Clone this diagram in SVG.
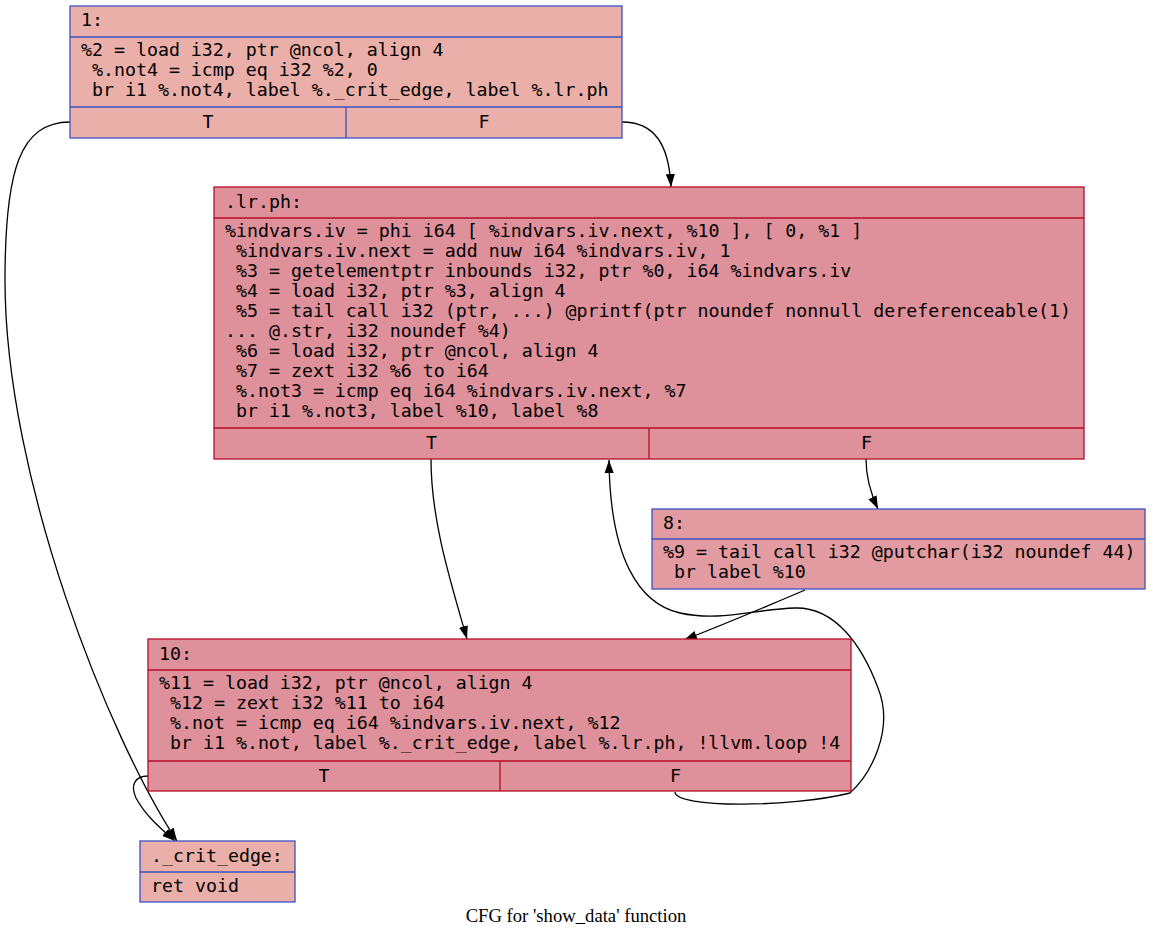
<svg xmlns="http://www.w3.org/2000/svg" width="1153" height="939" viewBox="0 0 1153 939">
<style>
.t{font-family:"DejaVu Sans Mono",monospace;font-size:18.25px;fill:#000}
.c{text-anchor:middle}
.cold{stroke:#3d50c3;stroke-width:1.3}
.hot{stroke:#b70d28;stroke-width:1.3}
.e{fill:none;stroke:#000;stroke-width:1.3}
.title{font-family:"Liberation Serif","Times New Roman",serif;font-size:18.67px;text-anchor:middle;fill:#000}
</style>
<defs>
<marker id="ah" viewBox="0 0 10 7" refX="10" refY="3.5" markerUnits="userSpaceOnUse" markerWidth="13" markerHeight="9.5" orient="auto">
<path d="M0,0 L10,3.5 L0,7 z" fill="#000"/>
</marker>
</defs>
<rect width="1153" height="939" fill="#fff"/>
<g id="edges">
<path class="e" marker-end="url(#ah)" d="M70,122 C20,122 5,170 5,280 C5,480 110,740 177,841"/>
<path class="e" marker-end="url(#ah)" d="M622,122 C655,122 669,145 671,187"/>
<path class="e" marker-end="url(#ah)" d="M431,459 C431,520 450,580 467,639"/>
<path class="e" marker-end="url(#ah)" d="M866,459 C866,478 870,492 878,509"/>
<path class="e" marker-end="url(#ah)" d="M805,590 C770,605 730,622 684,640"/>
<path class="e" marker-end="url(#ah)" d="M148,776 C135,776 130,785 136,798 C145,815 160,828 175,841"/>
<path class="e" marker-end="url(#ah)" d="M675,792 C675,808 790,808 850,793 C870,775 895,730 878,688 C862,645 835,607 795,608 C755,609 720,622 680,613 C640,604 610,560 609,460"/>
</g>
<g id="node1">
<rect class="cold" x="70" y="6" width="552" height="132" fill="#ebafa9"/>
<line class="cold" x1="70" y1="37" x2="622" y2="37"/>
<line class="cold" x1="70" y1="107" x2="622" y2="107"/>
<line class="cold" x1="346" y1="107" x2="346" y2="138"/>
<text class="t" x="81" y="26">1:</text>
<text class="t" x="81" y="56" xml:space="preserve">%2 = load i32, ptr @ncol, align 4</text>
<text class="t" x="81" y="76" xml:space="preserve"> %.not4 = icmp eq i32 %2, 0</text>
<text class="t" x="81" y="96" xml:space="preserve"> br i1 %.not4, label %._crit_edge, label %.lr.ph</text>
<text class="t c" x="208" y="128">T</text>
<text class="t c" x="484" y="128">F</text>
</g>
<g id="node_lrph">
<rect class="hot" x="214" y="187" width="870" height="272" fill="#df919b"/>
<line class="hot" x1="214" y1="218" x2="1084" y2="218"/>
<line class="hot" x1="214" y1="428" x2="1084" y2="428"/>
<line class="hot" x1="649" y1="428" x2="649" y2="459"/>
<text class="t" x="225" y="208">.lr.ph:</text>
<text class="t" x="225" y="237" xml:space="preserve">%indvars.iv = phi i64 [ %indvars.iv.next, %10 ], [ 0, %1 ]</text>
<text class="t" x="225" y="257" xml:space="preserve"> %indvars.iv.next = add nuw i64 %indvars.iv, 1</text>
<text class="t" x="225" y="277" xml:space="preserve"> %3 = getelementptr inbounds i32, ptr %0, i64 %indvars.iv</text>
<text class="t" x="225" y="297" xml:space="preserve"> %4 = load i32, ptr %3, align 4</text>
<text class="t" x="225" y="317" xml:space="preserve"> %5 = tail call i32 (ptr, ...) @printf(ptr noundef nonnull dereferenceable(1)</text>
<text class="t" x="225" y="337" xml:space="preserve">... @.str, i32 noundef %4)</text>
<text class="t" x="225" y="357" xml:space="preserve"> %6 = load i32, ptr @ncol, align 4</text>
<text class="t" x="225" y="377" xml:space="preserve"> %7 = zext i32 %6 to i64</text>
<text class="t" x="225" y="397" xml:space="preserve"> %.not3 = icmp eq i64 %indvars.iv.next, %7</text>
<text class="t" x="225" y="417" xml:space="preserve"> br i1 %.not3, label %10, label %8</text>
<text class="t c" x="431.5" y="449">T</text>
<text class="t c" x="866.5" y="449">F</text>
</g>
<g id="node8">
<rect class="cold" x="652" y="509" width="493" height="80" fill="#e29ba0"/>
<line class="cold" x1="652" y1="539" x2="1145" y2="539"/>
<text class="t" x="663" y="529">8:</text>
<text class="t" x="663" y="558" xml:space="preserve">%9 = tail call i32 @putchar(i32 noundef 44)</text>
<text class="t" x="663" y="578" xml:space="preserve"> br label %10</text>
</g>
<g id="node10">
<rect class="hot" x="148" y="639" width="703" height="152" fill="#df919b"/>
<line class="hot" x1="148" y1="670" x2="851" y2="670"/>
<line class="hot" x1="148" y1="761" x2="851" y2="761"/>
<line class="hot" x1="500" y1="761" x2="500" y2="791"/>
<text class="t" x="159" y="660">10:</text>
<text class="t" x="159" y="689" xml:space="preserve">%11 = load i32, ptr @ncol, align 4</text>
<text class="t" x="159" y="709" xml:space="preserve"> %12 = zext i32 %11 to i64</text>
<text class="t" x="159" y="729" xml:space="preserve"> %.not = icmp eq i64 %indvars.iv.next, %12</text>
<text class="t" x="159" y="749" xml:space="preserve"> br i1 %.not, label %._crit_edge, label %.lr.ph, !llvm.loop !4</text>
<text class="t c" x="324" y="782">T</text>
<text class="t c" x="675.5" y="782">F</text>
</g>
<g id="node_crit_edge">
<rect class="cold" x="140" y="841" width="155" height="61" fill="#ebafa9"/>
<line class="cold" x1="140" y1="872" x2="295" y2="872"/>
<text class="t" x="151" y="862">._crit_edge:</text>
<text class="t" x="151" y="892">ret void</text>
</g>
<text class="title" x="576" y="922">CFG for 'show_data' function</text>
</svg>
